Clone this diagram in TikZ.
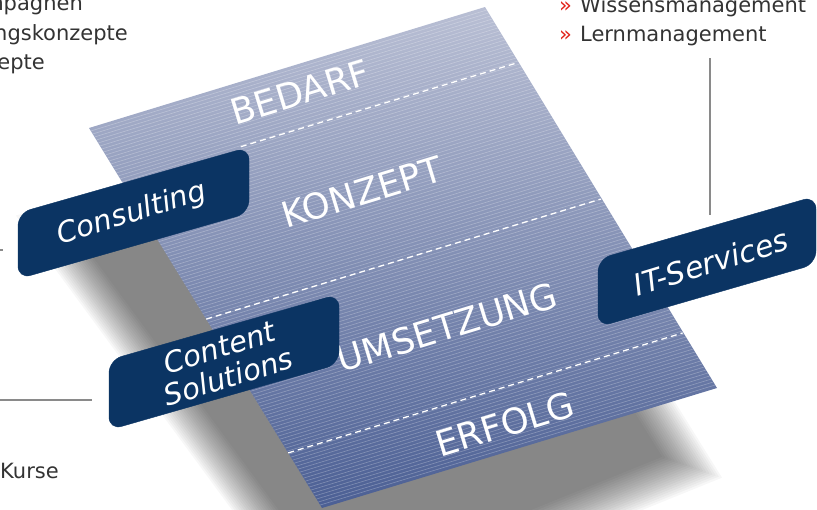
\documentclass[tikz,border=0pt]{standalone}
\usepackage{fontspec}
\setmainfont{DejaVu Sans}[ItalicFont={DejaVu Sans Oblique}]
\usetikzlibrary{calc}
\definecolor{navy}{HTML}{0B3463}
\definecolor{sheetTop}{HTML}{B9BFD4}
\definecolor{sheetMid}{HTML}{8D98B8}
\definecolor{sheetBot}{HTML}{4B5F94}
\definecolor{leadgray}{HTML}{8A8A8A}
\definecolor{txtgray}{HTML}{333333}
\definecolor{bulletred}{HTML}{E2231A}
\tikzset{
  lab/.style={text=white, font=\fontsize{35.5}{35.5}\selectfont, rotate=17, inner sep=0pt},
  boxshape/.style={fill=navy, draw=navy, rounded corners=13pt},
  boxtext/.style={text=white, font=\fontsize{29}{31}\selectfont\itshape, rotate=17, align=center, inner sep=0pt},
  dashline/.style={white, line width=1.3pt, dash pattern=on 6pt off 4pt},
  stripe/.style={white, opacity=0.28, line width=0.6pt},
  leader/.style={leadgray, line width=1.4pt},
  side/.style={text=txtgray, font=\fontsize{21}{24}\selectfont, inner sep=0pt},
  bullet/.style={text=bulletred, font=\fontsize{21}{24}\selectfont, inner sep=0pt}
}
\begin{document}
\begin{tikzpicture}[x=1pt,y=1pt]
\useasboundingbox (0,0) rectangle (817,-509);
\clip (0,0) rectangle (817,-509);

% soft shadow
\coordinate (sc) at (385,-360);
\foreach \s in {0.88,0.89,...,1.075}
  \fill[black, opacity=0.03, scale around={\s:(sc)}] (40,-225) -- (470,-100) -- (700,-470) -- (330,-620) -- cycle;

% sheet
\coordinate (P0) at (89,-128);
\coordinate (P1) at (485,-7);
\coordinate (P2) at (717,-388);
\coordinate (P3) at (322,-508);
\shade[top color=sheetTop, middle color=sheetMid, bottom color=sheetBot] (P0) -- (P1) -- (P2) -- (P3) -- cycle;
\foreach \i in {1,...,126}
  \draw[stripe] ($(P0)!{\i/127}!(P3)$) -- ($(P1)!{\i/127}!(P2)$);

% dashed separators
\coordinate (d1a) at (240.8,-146.7);
\coordinate (d1b) at (517.6,-62.7);
\coordinate (d2a) at (206.2,-319.1);
\coordinate (d2b) at (600.7,-199.1);
\coordinate (d3a) at (288.2,-452.9);
\coordinate (d3b) at (682.7,-332.9);
\draw[dashline] (d1a) -- (d1b);
\draw[dashline] (d2a) -- (d2b);
\draw[dashline] (d3a) -- (d3b);

% phase labels
\node[lab] (bedarf) at (300,-92) {BEDARF};
\node[lab] (konzept) at (362,-192) {KONZEPT};
\node[lab] (umsetzung) at (447,-327) {UMSETZUNG};
\node[lab] (erfolg) at (505,-424) {ERFOLG};

% leader lines
\coordinate (vtop) at (710,-58);
\coordinate (vbot) at (710,-215);
\draw[leader] (vtop) -- (vbot);
\coordinate (hl1) at (0,-400);
\coordinate (hl2) at (92,-400);
\draw[leader] (hl1) -- (hl2);
\coordinate (hs1) at (0,-250);
\coordinate (hs2) at (3,-250);
\draw[leader] (hs1) -- (hs2);

% boxes
\fill[boxshape] (18,-213) -- (249,-147) -- (249,-213) -- (18,-279) -- cycle;
\node[boxtext] (consulting) at (132,-214) {Consulting};
\fill[boxshape] (109,-360) -- (339,-294) -- (339,-364) -- (109,-430) -- cycle;
\node[boxtext] (content) at (224,-362) {Content\\Solutions};
\fill[boxshape] (598,-259) -- (816,-196) -- (816,-264) -- (598,-327) -- cycle;
\node[boxtext, font=\fontsize{30}{31}\selectfont\itshape] (itserv) at (711,-262) {IT-Services};

% side texts
\node[side, anchor=base east] (l1) at (83,-10.5) {mpagnen};
\node[side, anchor=base east] (l2) at (128,-40) {ngskonzepte};
\node[side, anchor=base east] (l3) at (45,-69) {epte};
\node[side, anchor=base west] (l4) at (0,-478) {Kurse};
\node[bullet, anchor=base west] (b1) at (559,-12.3) {»};
\node[side, anchor=base west] (r1) at (580,-12.3) {Wissensmanagement};
\node[bullet, anchor=base west] (b2) at (559,-41.7) {»};
\node[side, anchor=base west] (r2) at (580,-41.7) {Lernmanagement};
\end{tikzpicture}
\end{document}
